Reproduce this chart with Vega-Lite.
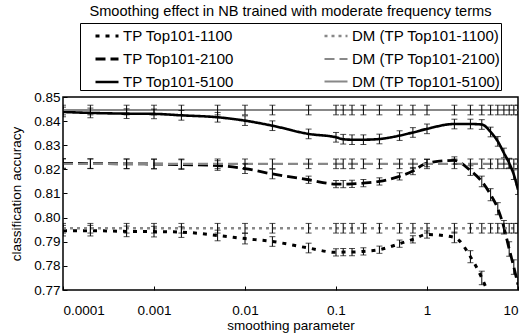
{
  "$schema": "https://vega.github.io/schema/vega-lite/v6.json",
  "width": 455,
  "height": 193,
  "autosize": {"type": "none"},
  "padding": {"left": 63, "top": 97, "right": 7, "bottom": 46},
  "background": "white",
  "config": {
    "font": "Liberation Sans",
    "view": {"stroke": "black", "strokeWidth": 1.5},
    "axis": {"grid": false, "domain": false, "labelFont": "Liberation Sans", "titleFont": "Liberation Sans", "labelFontSize": 13.5, "titleFontSize": 13.5, "titleFontWeight": "normal", "labelColor": "black", "titleColor": "black", "tickColor": "black", "labelOverlap": false}
  },
  "title": {"text": "Smoothing effect in NB trained with moderate frequency terms", "fontSize": 14.6, "fontWeight": "normal", "font": "Liberation Sans", "anchor": "middle", "frame": "group", "offset": 4, "color": "black"},
  "datasets": {
    "acc": [
      {"s": "TP Top101-1100", "x": 0.0001, "y": 0.7946, "e": 0.0022},
      {"s": "TP Top101-1100", "x": 0.0002, "y": 0.7946, "e": 0.0022},
      {"s": "TP Top101-1100", "x": 0.0005, "y": 0.7943, "e": 0.0022},
      {"s": "TP Top101-1100", "x": 0.001, "y": 0.7942, "e": 0.0022},
      {"s": "TP Top101-1100", "x": 0.002, "y": 0.794, "e": 0.0022},
      {"s": "TP Top101-1100", "x": 0.005, "y": 0.7926, "e": 0.0022},
      {"s": "TP Top101-1100", "x": 0.01, "y": 0.7913, "e": 0.0022},
      {"s": "TP Top101-1100", "x": 0.02, "y": 0.7901, "e": 0.002},
      {"s": "TP Top101-1100", "x": 0.05, "y": 0.7874, "e": 0.002},
      {"s": "TP Top101-1100", "x": 0.1, "y": 0.7856, "e": 0.0015},
      {"s": "TP Top101-1100", "x": 0.12, "y": 0.7857, "e": 0.0015},
      {"s": "TP Top101-1100", "x": 0.15, "y": 0.7857, "e": 0.0015},
      {"s": "TP Top101-1100", "x": 0.2, "y": 0.786, "e": 0.0015},
      {"s": "TP Top101-1100", "x": 0.3, "y": 0.7867, "e": 0.0015},
      {"s": "TP Top101-1100", "x": 0.5, "y": 0.7892, "e": 0.0015},
      {"s": "TP Top101-1100", "x": 0.7, "y": 0.791, "e": 0.0015},
      {"s": "TP Top101-1100", "x": 1, "y": 0.793, "e": 0.0015},
      {"s": "TP Top101-1100", "x": 2, "y": 0.7918, "e": 0.0022},
      {"s": "TP Top101-1100", "x": 3, "y": 0.7838, "e": 0.0025},
      {"s": "TP Top101-1100", "x": 4, "y": 0.775, "e": 0.0028},
      {"s": "TP Top101-1100", "x": 5, "y": 0.766, "e": 0.003},
      {"s": "TP Top101-1100", "x": 6, "y": 0.757, "e": 0.003},
      {"s": "TP Top101-2100", "x": 0.0001, "y": 0.8225, "e": 0.002},
      {"s": "TP Top101-2100", "x": 0.0002, "y": 0.8224, "e": 0.002},
      {"s": "TP Top101-2100", "x": 0.0005, "y": 0.8223, "e": 0.002},
      {"s": "TP Top101-2100", "x": 0.001, "y": 0.8222, "e": 0.002},
      {"s": "TP Top101-2100", "x": 0.002, "y": 0.822, "e": 0.002},
      {"s": "TP Top101-2100", "x": 0.005, "y": 0.8216, "e": 0.002},
      {"s": "TP Top101-2100", "x": 0.01, "y": 0.8203, "e": 0.002},
      {"s": "TP Top101-2100", "x": 0.02, "y": 0.8181, "e": 0.002},
      {"s": "TP Top101-2100", "x": 0.05, "y": 0.8157, "e": 0.0015},
      {"s": "TP Top101-2100", "x": 0.1, "y": 0.8139, "e": 0.0015},
      {"s": "TP Top101-2100", "x": 0.12, "y": 0.8139, "e": 0.0015},
      {"s": "TP Top101-2100", "x": 0.15, "y": 0.814, "e": 0.0015},
      {"s": "TP Top101-2100", "x": 0.2, "y": 0.8143, "e": 0.0015},
      {"s": "TP Top101-2100", "x": 0.3, "y": 0.815, "e": 0.0015},
      {"s": "TP Top101-2100", "x": 0.5, "y": 0.8171, "e": 0.0015},
      {"s": "TP Top101-2100", "x": 0.7, "y": 0.8193, "e": 0.0015},
      {"s": "TP Top101-2100", "x": 1, "y": 0.8226, "e": 0.0015},
      {"s": "TP Top101-2100", "x": 2, "y": 0.8237, "e": 0.0015},
      {"s": "TP Top101-2100", "x": 3, "y": 0.8195, "e": 0.002},
      {"s": "TP Top101-2100", "x": 4, "y": 0.815, "e": 0.0022},
      {"s": "TP Top101-2100", "x": 5, "y": 0.8095, "e": 0.0025},
      {"s": "TP Top101-2100", "x": 6, "y": 0.8037, "e": 0.0025},
      {"s": "TP Top101-2100", "x": 7, "y": 0.796, "e": 0.0028},
      {"s": "TP Top101-2100", "x": 8, "y": 0.787, "e": 0.003},
      {"s": "TP Top101-2100", "x": 9, "y": 0.7795, "e": 0.003},
      {"s": "TP Top101-2100", "x": 10, "y": 0.7722, "e": 0.003},
      {"s": "TP Top101-5100", "x": 0.0001, "y": 0.8438, "e": 0.002},
      {"s": "TP Top101-5100", "x": 0.0002, "y": 0.8434, "e": 0.002},
      {"s": "TP Top101-5100", "x": 0.0005, "y": 0.8431, "e": 0.002},
      {"s": "TP Top101-5100", "x": 0.001, "y": 0.843, "e": 0.002},
      {"s": "TP Top101-5100", "x": 0.002, "y": 0.8424, "e": 0.002},
      {"s": "TP Top101-5100", "x": 0.005, "y": 0.8416, "e": 0.002},
      {"s": "TP Top101-5100", "x": 0.01, "y": 0.8402, "e": 0.002},
      {"s": "TP Top101-5100", "x": 0.02, "y": 0.8381, "e": 0.002},
      {"s": "TP Top101-5100", "x": 0.05, "y": 0.8347, "e": 0.002},
      {"s": "TP Top101-5100", "x": 0.1, "y": 0.8333, "e": 0.002},
      {"s": "TP Top101-5100", "x": 0.12, "y": 0.8325, "e": 0.002},
      {"s": "TP Top101-5100", "x": 0.15, "y": 0.8323, "e": 0.002},
      {"s": "TP Top101-5100", "x": 0.2, "y": 0.8323, "e": 0.002},
      {"s": "TP Top101-5100", "x": 0.3, "y": 0.8326, "e": 0.002},
      {"s": "TP Top101-5100", "x": 0.5, "y": 0.834, "e": 0.002},
      {"s": "TP Top101-5100", "x": 0.7, "y": 0.8353, "e": 0.002},
      {"s": "TP Top101-5100", "x": 1, "y": 0.8368, "e": 0.002},
      {"s": "TP Top101-5100", "x": 2, "y": 0.8388, "e": 0.002},
      {"s": "TP Top101-5100", "x": 3, "y": 0.8388, "e": 0.002},
      {"s": "TP Top101-5100", "x": 4, "y": 0.8386, "e": 0.002},
      {"s": "TP Top101-5100", "x": 5, "y": 0.8355, "e": 0.002},
      {"s": "TP Top101-5100", "x": 6, "y": 0.8316, "e": 0.002},
      {"s": "TP Top101-5100", "x": 7, "y": 0.8268, "e": 0.002},
      {"s": "TP Top101-5100", "x": 8, "y": 0.8226, "e": 0.002},
      {"s": "TP Top101-5100", "x": 9, "y": 0.8178, "e": 0.002},
      {"s": "TP Top101-5100", "x": 10, "y": 0.8116, "e": 0.002},
      {"s": "DM (TP Top101-1100)", "x": 0.0001, "y": 0.7956, "e": 0.002},
      {"s": "DM (TP Top101-1100)", "x": 0.0002, "y": 0.7956, "e": 0.002},
      {"s": "DM (TP Top101-1100)", "x": 0.0005, "y": 0.7956, "e": 0.002},
      {"s": "DM (TP Top101-1100)", "x": 0.001, "y": 0.7956, "e": 0.002},
      {"s": "DM (TP Top101-1100)", "x": 0.002, "y": 0.7956, "e": 0.002},
      {"s": "DM (TP Top101-1100)", "x": 0.005, "y": 0.7956, "e": 0.002},
      {"s": "DM (TP Top101-1100)", "x": 0.01, "y": 0.7956, "e": 0.002},
      {"s": "DM (TP Top101-1100)", "x": 0.02, "y": 0.7956, "e": 0.002},
      {"s": "DM (TP Top101-1100)", "x": 0.05, "y": 0.7956, "e": 0.002},
      {"s": "DM (TP Top101-1100)", "x": 0.1, "y": 0.7956, "e": 0.002},
      {"s": "DM (TP Top101-1100)", "x": 0.12, "y": 0.7956, "e": 0.002},
      {"s": "DM (TP Top101-1100)", "x": 0.15, "y": 0.7956, "e": 0.002},
      {"s": "DM (TP Top101-1100)", "x": 0.2, "y": 0.7956, "e": 0.002},
      {"s": "DM (TP Top101-1100)", "x": 0.3, "y": 0.7956, "e": 0.002},
      {"s": "DM (TP Top101-1100)", "x": 0.5, "y": 0.7956, "e": 0.002},
      {"s": "DM (TP Top101-1100)", "x": 0.7, "y": 0.7956, "e": 0.002},
      {"s": "DM (TP Top101-1100)", "x": 1, "y": 0.7956, "e": 0.002},
      {"s": "DM (TP Top101-1100)", "x": 2, "y": 0.7956, "e": 0.002},
      {"s": "DM (TP Top101-1100)", "x": 3, "y": 0.7956, "e": 0.002},
      {"s": "DM (TP Top101-1100)", "x": 4, "y": 0.7956, "e": 0.002},
      {"s": "DM (TP Top101-1100)", "x": 5, "y": 0.7956, "e": 0.002},
      {"s": "DM (TP Top101-1100)", "x": 6, "y": 0.7956, "e": 0.002},
      {"s": "DM (TP Top101-1100)", "x": 7, "y": 0.7956, "e": 0.002},
      {"s": "DM (TP Top101-1100)", "x": 8, "y": 0.7956, "e": 0.002},
      {"s": "DM (TP Top101-1100)", "x": 9, "y": 0.7956, "e": 0.002},
      {"s": "DM (TP Top101-1100)", "x": 10, "y": 0.7956, "e": 0.002},
      {"s": "DM (TP Top101-2100)", "x": 0.0001, "y": 0.8223, "e": 0.002},
      {"s": "DM (TP Top101-2100)", "x": 0.0002, "y": 0.8223, "e": 0.002},
      {"s": "DM (TP Top101-2100)", "x": 0.0005, "y": 0.8223, "e": 0.002},
      {"s": "DM (TP Top101-2100)", "x": 0.001, "y": 0.8223, "e": 0.002},
      {"s": "DM (TP Top101-2100)", "x": 0.002, "y": 0.8223, "e": 0.002},
      {"s": "DM (TP Top101-2100)", "x": 0.005, "y": 0.8223, "e": 0.002},
      {"s": "DM (TP Top101-2100)", "x": 0.01, "y": 0.8223, "e": 0.002},
      {"s": "DM (TP Top101-2100)", "x": 0.02, "y": 0.8223, "e": 0.002},
      {"s": "DM (TP Top101-2100)", "x": 0.05, "y": 0.8223, "e": 0.002},
      {"s": "DM (TP Top101-2100)", "x": 0.1, "y": 0.8223, "e": 0.002},
      {"s": "DM (TP Top101-2100)", "x": 0.12, "y": 0.8223, "e": 0.002},
      {"s": "DM (TP Top101-2100)", "x": 0.15, "y": 0.8223, "e": 0.002},
      {"s": "DM (TP Top101-2100)", "x": 0.2, "y": 0.8223, "e": 0.002},
      {"s": "DM (TP Top101-2100)", "x": 0.3, "y": 0.8223, "e": 0.002},
      {"s": "DM (TP Top101-2100)", "x": 0.5, "y": 0.8223, "e": 0.002},
      {"s": "DM (TP Top101-2100)", "x": 0.7, "y": 0.8223, "e": 0.002},
      {"s": "DM (TP Top101-2100)", "x": 1, "y": 0.8223, "e": 0.002},
      {"s": "DM (TP Top101-2100)", "x": 2, "y": 0.8223, "e": 0.002},
      {"s": "DM (TP Top101-2100)", "x": 3, "y": 0.8223, "e": 0.002},
      {"s": "DM (TP Top101-2100)", "x": 4, "y": 0.8223, "e": 0.002},
      {"s": "DM (TP Top101-2100)", "x": 5, "y": 0.8223, "e": 0.002},
      {"s": "DM (TP Top101-2100)", "x": 6, "y": 0.8223, "e": 0.002},
      {"s": "DM (TP Top101-2100)", "x": 7, "y": 0.8223, "e": 0.002},
      {"s": "DM (TP Top101-2100)", "x": 8, "y": 0.8223, "e": 0.002},
      {"s": "DM (TP Top101-2100)", "x": 9, "y": 0.8223, "e": 0.002},
      {"s": "DM (TP Top101-2100)", "x": 10, "y": 0.8223, "e": 0.002},
      {"s": "DM (TP Top101-5100)", "x": 0.0001, "y": 0.8446, "e": 0.002},
      {"s": "DM (TP Top101-5100)", "x": 0.0002, "y": 0.8446, "e": 0.002},
      {"s": "DM (TP Top101-5100)", "x": 0.0005, "y": 0.8446, "e": 0.002},
      {"s": "DM (TP Top101-5100)", "x": 0.001, "y": 0.8446, "e": 0.002},
      {"s": "DM (TP Top101-5100)", "x": 0.002, "y": 0.8446, "e": 0.002},
      {"s": "DM (TP Top101-5100)", "x": 0.005, "y": 0.8446, "e": 0.002},
      {"s": "DM (TP Top101-5100)", "x": 0.01, "y": 0.8446, "e": 0.002},
      {"s": "DM (TP Top101-5100)", "x": 0.02, "y": 0.8446, "e": 0.002},
      {"s": "DM (TP Top101-5100)", "x": 0.05, "y": 0.8446, "e": 0.002},
      {"s": "DM (TP Top101-5100)", "x": 0.1, "y": 0.8446, "e": 0.002},
      {"s": "DM (TP Top101-5100)", "x": 0.12, "y": 0.8446, "e": 0.002},
      {"s": "DM (TP Top101-5100)", "x": 0.15, "y": 0.8446, "e": 0.002},
      {"s": "DM (TP Top101-5100)", "x": 0.2, "y": 0.8446, "e": 0.002},
      {"s": "DM (TP Top101-5100)", "x": 0.3, "y": 0.8446, "e": 0.002},
      {"s": "DM (TP Top101-5100)", "x": 0.5, "y": 0.8446, "e": 0.002},
      {"s": "DM (TP Top101-5100)", "x": 0.7, "y": 0.8446, "e": 0.002},
      {"s": "DM (TP Top101-5100)", "x": 1, "y": 0.8446, "e": 0.002},
      {"s": "DM (TP Top101-5100)", "x": 2, "y": 0.8446, "e": 0.002},
      {"s": "DM (TP Top101-5100)", "x": 3, "y": 0.8446, "e": 0.002},
      {"s": "DM (TP Top101-5100)", "x": 4, "y": 0.8446, "e": 0.002},
      {"s": "DM (TP Top101-5100)", "x": 5, "y": 0.8446, "e": 0.002},
      {"s": "DM (TP Top101-5100)", "x": 6, "y": 0.8446, "e": 0.002},
      {"s": "DM (TP Top101-5100)", "x": 7, "y": 0.8446, "e": 0.002},
      {"s": "DM (TP Top101-5100)", "x": 8, "y": 0.8446, "e": 0.002},
      {"s": "DM (TP Top101-5100)", "x": 9, "y": 0.8446, "e": 0.002},
      {"s": "DM (TP Top101-5100)", "x": 10, "y": 0.8446, "e": 0.002}
    ]
  },
  "data": {"name": "acc"},
  "encoding": {
    "x": {
      "field": "x", "type": "quantitative",
      "scale": {"type": "log", "domain": [0.0001, 10], "nice": false},
      "axis": {"title": "smoothing parameter", "values": [0.0001, 0.001, 0.01, 0.1, 1, 10], "format": "~g", "tickSize": -4, "labelPadding": 17, "titlePadding": 2}
    },
    "y": {
      "field": "y", "type": "quantitative",
      "title": "classification accuracy",
      "scale": {"domain": [0.77, 0.85], "nice": false, "zero": false},
      "axis": {"title": "classification accuracy", "values": [0.77, 0.78, 0.79, 0.8, 0.81, 0.82, 0.83, 0.84, 0.85], "format": ".2f", "tickSize": -4, "labelPadding": 7, "titlePadding": 10}
    }
  },
  "layer": [
    {
      "mark": {"type": "line", "interpolate": "monotone", "clip": true},
      "encoding": {
        "color": {
          "field": "s", "type": "nominal",
          "scale": {"domain": ["TP Top101-1100", "TP Top101-2100", "TP Top101-5100", "DM (TP Top101-1100)", "DM (TP Top101-2100)", "DM (TP Top101-5100)"], "range": ["#000000", "#000000", "#000000", "#888888", "#888888", "#888888"]},
          "legend": {"title": null, "orient": "none", "legendX": 17, "legendY": -74, "columns": 2, "columnPadding": 75, "rowPadding": 2, "padding": 0, "symbolOffset": 14, "symbolType": "stroke", "symbolSize": 529, "labelFont": "Liberation Sans", "labelFontSize": 15, "labelFontWeight": "normal", "labelColor": "black", "labelOffset": 3, "labelLimit": 300, "strokeColor": "black", "fillColor": "white"}
        },
        "strokeDash": {
          "field": "s", "type": "nominal",
          "scale": {"domain": ["TP Top101-1100", "TP Top101-2100", "TP Top101-5100", "DM (TP Top101-1100)", "DM (TP Top101-2100)", "DM (TP Top101-5100)"], "range": [[4, 6], [10, 5], [1, 0], [3, 4], [10, 5], [1, 0]]},
          "legend": null
        },
        "strokeWidth": {
          "field": "s", "type": "nominal",
          "scale": {"domain": ["TP Top101-1100", "TP Top101-2100", "TP Top101-5100", "DM (TP Top101-1100)", "DM (TP Top101-2100)", "DM (TP Top101-5100)"], "range": [3, 2, 1.5, 2, 2.5, 1.5]},
          "legend": null
        }
      }
    },
    {
      "mark": {"type": "errorbar", "ticks": {"size": 6, "color": "black", "strokeWidth": 1}, "rule": {"color": "black", "strokeWidth": 1}, "clip": true},
      "encoding": {
        "yError": {"field": "e"},
        "detail": {"field": "s", "type": "nominal"}
      }
    }
  ]
}
